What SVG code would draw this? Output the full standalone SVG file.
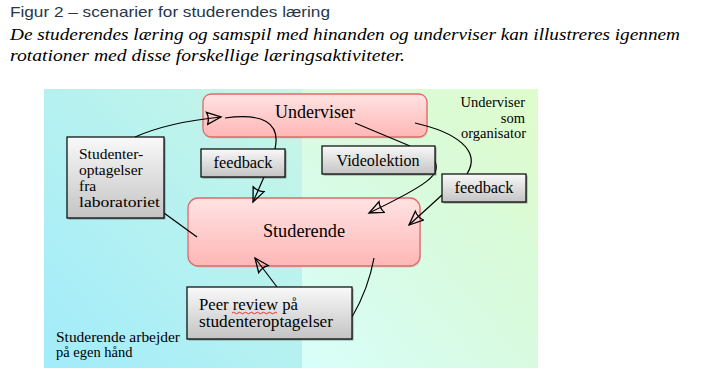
<svg xmlns="http://www.w3.org/2000/svg" width="704" height="380" viewBox="0 0 704 380">
<defs>
<linearGradient id="bgL" x1="1" y1="0" x2="0" y2="1"><stop offset="0" stop-color="#c8f6e6"/><stop offset="1" stop-color="#a2ecfb"/></linearGradient>
<linearGradient id="bgR" x1="0" y1="1" x2="1" y2="0"><stop offset="0" stop-color="#d8fefa"/><stop offset="0.5" stop-color="#d8fbe0"/><stop offset="1" stop-color="#dffccb"/></linearGradient>
<linearGradient id="pink" x1="0" y1="0" x2="0" y2="1"><stop offset="0" stop-color="#ffe3e3"/><stop offset="1" stop-color="#ffb6b6"/></linearGradient>
<linearGradient id="gray" x1="0" y1="0" x2="0" y2="1"><stop offset="0" stop-color="#f9f9f9"/><stop offset="1" stop-color="#c4c4c4"/></linearGradient>
<marker id="arr" markerUnits="userSpaceOnUse" markerWidth="18" markerHeight="16" refX="15" refY="7" orient="auto" viewBox="0 0 18 16"><path d="M1,1 L15,7 L1,13 Q3.5,7 1,1 z" fill="none" stroke="#000" stroke-width="1.3"/></marker>
</defs>
<style>
.t{font-family:"Liberation Serif","DejaVu Serif",serif;fill:#000}
.pk{fill:url(#pink);stroke:#e06a6a;stroke-width:1.3}
.gb{fill:url(#gray);stroke:#000;stroke-width:1.2}
.sh{fill:#555;opacity:0.55}
.ps{fill:#b07070;opacity:0.25}
.c{fill:none;stroke:#000;stroke-width:1.2}
</style>
<text x="10" y="17" font-family="Liberation Sans, Arial, sans-serif" font-size="15" fill="#27364a" textLength="320" lengthAdjust="spacingAndGlyphs">Figur 2 – scenarier for studerendes læring</text>
<text class="t" x="10" y="40" font-size="17" font-style="italic" textLength="670" lengthAdjust="spacingAndGlyphs">De studerendes læring og samspil med hinanden og underviser kan illustreres igennem</text>
<text class="t" x="10" y="61" font-size="17" font-style="italic" textLength="395" lengthAdjust="spacingAndGlyphs">rotationer med disse forskellige læringsaktiviteter.</text>
<g id="background">
<rect x="44" y="89" width="258" height="279" fill="url(#bgL)"/>
<rect x="302" y="89" width="236" height="279" fill="url(#bgR)"/>
</g>
<g id="label-underviser-som-organisator" class="t" font-size="14.5" text-anchor="end">
<text x="525" y="107">Underviser</text>
<text x="525" y="123">som</text>
<text x="526" y="138">organisator</text>
</g>
<g id="label-studerende-arbejder" class="t" font-size="14.5">
<text x="56" y="342" textLength="124" lengthAdjust="spacingAndGlyphs">Studerende arbejder</text>
<text x="56" y="357">på egen hånd</text>
</g>
<g id="underviser">
<rect class="ps" x="204" y="95.5" width="224" height="43" rx="8"/>
<rect class="pk" x="203" y="94" width="224" height="43" rx="8"/>
<text class="t" x="315" y="118" font-size="18" text-anchor="middle">Underviser</text>
</g>
<g id="studerende">
<rect class="ps" x="189" y="199.5" width="232" height="68" rx="10"/>
<rect class="pk" x="188" y="198" width="232" height="68" rx="10"/>
<text class="t" x="304" y="237" font-size="18.3" text-anchor="middle">Studerende</text>
</g>
<g id="connectors">
<path class="c" d="M135,137 C160,126 190,120 221,117" marker-end="url(#arr)"/>
<path class="c" d="M225,118 C262,113 281,122 275,149 L264,177 L253,202" marker-end="url(#arr)"/>
<path class="c" d="M355,123 L410,146 M434,160 C444,174 425,186 369,213" marker-end="url(#arr)"/>
<path class="c" d="M415,123 C455,132 482,150 467,174 M442,195 L409,225" marker-end="url(#arr)"/>
<path class="c" d="M164,213 L197,237"/>
<path class="c" d="M277,287 L255,258" marker-end="url(#arr)"/>
<path class="c" d="M352,317 C362,300 370,280 374,258"/>
</g>
<g id="studenteroptagelser-fra-laboratoriet">
<rect class="sh" x="68.5" y="138.5" width="97" height="81"/>
<rect class="gb" x="67" y="137" width="97" height="81"/>
<g class="t" font-size="15.5">
<text x="79" y="159">Studenter-</text>
<text x="79" y="175">optagelser</text>
<text x="79" y="191">fra</text>
<text x="79" y="207" textLength="81" lengthAdjust="spacingAndGlyphs">laboratoriet</text>
</g>
</g>
<g id="feedback-left">
<rect class="sh" x="202.5" y="150.5" width="84" height="28"/>
<rect class="gb" x="201" y="149" width="84" height="28"/>
<text class="t" x="243" y="168" font-size="16" text-anchor="middle" textLength="59" lengthAdjust="spacingAndGlyphs">feedback</text>
</g>
<g id="videolektion">
<rect class="sh" x="323.5" y="147.5" width="113" height="28"/>
<rect class="gb" x="322" y="146" width="113" height="28"/>
<text class="t" x="378" y="166" font-size="16" text-anchor="middle" textLength="83" lengthAdjust="spacingAndGlyphs">Videolektion</text>
</g>
<g id="feedback-right">
<rect class="sh" x="443.5" y="175.5" width="84" height="28"/>
<rect class="gb" x="442" y="174" width="84" height="28"/>
<text class="t" x="484" y="193" font-size="16" text-anchor="middle" textLength="59" lengthAdjust="spacingAndGlyphs">feedback</text>
</g>
<g id="peer-review">
<rect class="sh" x="188.5" y="288.5" width="165" height="52"/>
<rect class="gb" x="187" y="287" width="165" height="52"/>
<text class="t" x="199" y="310" font-size="16" textLength="99" lengthAdjust="spacingAndGlyphs">Peer review på</text>
<text class="t" x="199" y="327" font-size="16" textLength="134" lengthAdjust="spacingAndGlyphs">studenteroptagelser</text>
<path d="M232,313 q1.5,-1.5 3,0 t3,0 t3,0 t3,0 t3,0 t3,0 t3,0 t3,0 t3,0 t3,0 t3,0 t3,0 t3,0 t3,0 t3,0" fill="none" stroke="#e0201c" stroke-width="0.9"/>
</g>
</svg>
